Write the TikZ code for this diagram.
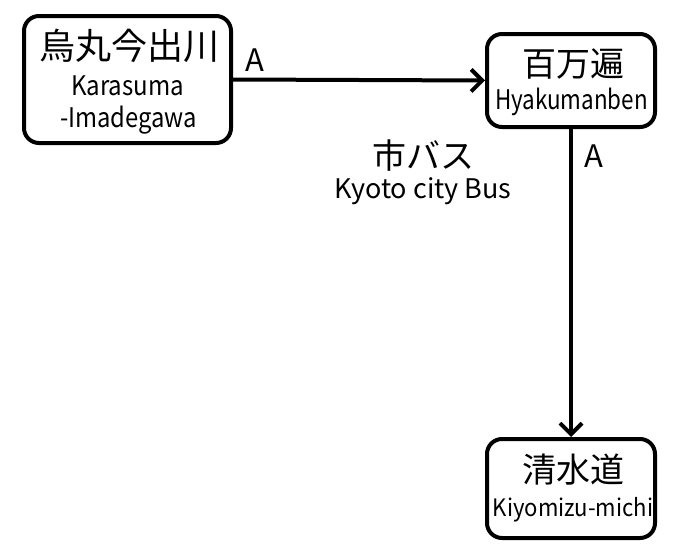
\documentclass[tikz,border=0pt]{standalone}
\usepackage{fontspec}
\setmainfont{Noto Sans CJK JP}
\usetikzlibrary{arrows.meta}
\tikzset{
  station/.style={draw=black, line width=4pt, rounded corners=15pt, fill=white, inner sep=0pt},
  link/.style={line width=4pt, -{Straight Barb[length=11pt,width=22pt,line width=4pt]}},
  jp/.style={inner sep=0pt, font=\fontsize{34}{34}\selectfont},
  jpL/.style={inner sep=0pt, font=\fontsize{36}{36}\selectfont},
  en/.style={inner sep=0pt, font=\fontsize{27}{27}\selectfont},
  enS/.style={inner sep=0pt, font=\fontsize{24}{24}\selectfont},
  lab/.style={inner sep=0pt, font=\fontsize{31}{31}\selectfont}
}
\begin{document}
\begin{tikzpicture}[x=1pt,y=-1pt]
\useasboundingbox[fill=white] (0,0) rectangle (681,554);
\node[station, minimum width=207pt, minimum height=127pt] (b1) at (127.5,79.5) {};
\node[station, minimum width=168pt, minimum height=93pt] (b2) at (571,80.5) {};
\node[station, minimum width=168pt, minimum height=99pt] (b3) at (571,488.5) {};
\node[jpL] (t1) at (129.5,46) {烏丸今出川};
\node[en] (t1a) at (127.5,86) {\scalebox{0.89}[1]{Karasuma}};
\node[en] (t1b) at (128.5,120) {\scalebox{0.88}[1]{-Imadegawa}};
\node[jp] (t2) at (573.5,64) {百万遍};
\node[en] (t2a) at (571.5,102) {\scalebox{0.83}[1]{Hyakumanben}};
\node[jp] (t3) at (573.5,470) {清水道};
\node[enS] (t3a) at (573,510) {\scalebox{0.92}[1]{Kiyomizu-michi}};
\node[jp] (bus) at (423,156) {市バス};
\node[en] (busen) at (423,191) {\scalebox{1.0}[1]{Kyoto city Bus}};
\node[lab] (a1) at (255,60) {A};
\node[lab] (a2) at (594,156) {A};
\draw[link] (b1.east) -- (b2.west);
\draw[link] (b2.south) -- (b3.north);
\end{tikzpicture}
\end{document}
